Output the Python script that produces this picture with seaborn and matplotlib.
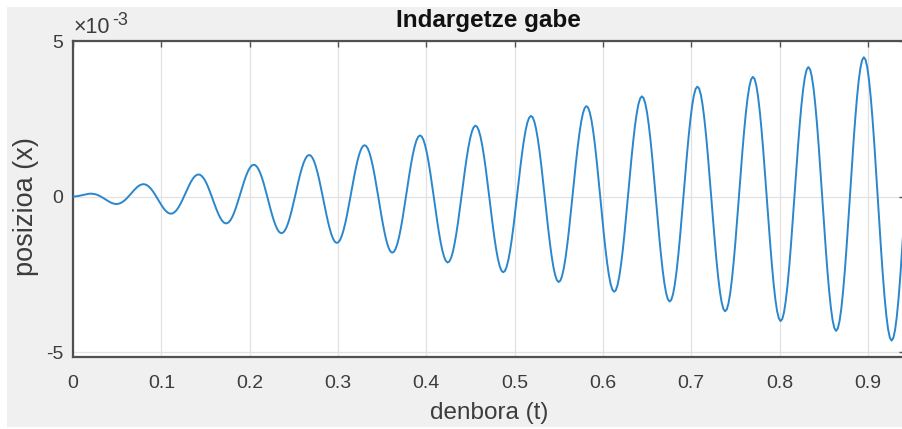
import numpy as np
import pandas as pd
import matplotlib
matplotlib.use("Agg")
import matplotlib.pyplot as plt
import seaborn as sns
from matplotlib.patches import Rectangle

# ---- data ----
# sampling step of the readings along the time axis (s)
dt = 0.003927
# position readings at t = k*dt, in units of 1e-3
pos_e3_grid = [
    0, 0.008, 0.028, 0.054, 0.079, 0.091, 0.083, 0.053, 0, -0.068, -0.139, -0.200, -0.236, -0.236, -0.194, -0.113,
    0, 0.128, 0.250, 0.345, 0.393, 0.381, 0.305, 0.173, 0, -0.188, -0.361, -0.490, -0.550, -0.526, -0.417, -0.233,
    0, 0.248, 0.472, 0.635, 0.707, 0.671, 0.528, 0.293, 0, -0.308, -0.583, -0.780, -0.864, -0.816, -0.639, -0.353,
    0, 0.368, 0.694, 0.925, 1.021, 0.961, 0.750, 0.413, 0, -0.428, -0.805, -1.070, -1.178, -1.107, -0.861, -0.473,
    0, 0.488, 0.916, 1.215, 1.335, 1.252, 0.972, 0.534, 0, -0.549, -1.027, -1.361, -1.492, -1.397, -1.083, -0.594,
    0, 0.609, 1.138, 1.506, 1.649, 1.542, 1.194, 0.654, 0, -0.669, -1.250, -1.651, -1.806, -1.687, -1.305, -0.714,
    0, 0.729, 1.361, 1.796, 1.964, 1.832, 1.416, 0.774, 0, -0.789, -1.472, -1.941, -2.121, -1.977, -1.527, -0.834,
    0, 0.849, 1.583, 2.086, 2.278, 2.122, 1.638, 0.894, 0, -0.909, -1.694, -2.231, -2.435, -2.268, -1.749, -0.954,
    0, 0.969, 1.805, 2.376, 2.592, 2.413, 1.860, 1.014, 0, -1.029, -1.916, -2.522, -2.749, -2.558, -1.972, -1.075,
    0, 1.090, 2.027, 2.667, 2.906, 2.703, 2.083, 1.135, 0, -1.150, -2.138, -2.812, -3.063, -2.848, -2.194, -1.195,
    0, 1.210, 2.249, 2.957, 3.220, 2.993, 2.305, 1.255, 0, -1.270, -2.360, -3.102, -3.377, -3.138, -2.416, -1.315,
    0, 1.330, 2.471, 3.247, 3.534, 3.284, 2.527, 1.375, 0, -1.390, -2.582, -3.392, -3.691, -3.429, -2.638, -1.435,
    0, 1.450, 2.693, 3.537, 3.848, 3.574, 2.749, 1.495, 0, -1.510, -2.805, -3.683, -4.006, -3.719, -2.860, -1.555,
    0, 1.570, 2.916, 3.828, 4.163, 3.864, 2.971, 1.616, 0, -1.631, -3.027, -3.973, -4.320, -4.009, -3.082, -1.676,
    0, 1.691, 3.138, 4.118, 4.477, 4.154, 3.193, 1.736, 0, -1.751, -3.249, -4.263, -4.634, -4.299, -3.304, -1.796,
    0,
]
# position readings at the midpoints t = (k + 0.5)*dt, in units of 1e-3
pos_e3_mid = [
    0.002, 0.016, 0.041, 0.067, 0.087, 0.090, 0.071, 0.029, -0.033, -0.104, -0.171, -0.221, -0.241, -0.220, -0.158, -0.059,
    0.063, 0.191, 0.302, 0.376, 0.395, 0.351, 0.245, 0.090, -0.094, -0.278, -0.433, -0.530, -0.549, -0.482, -0.333, -0.121,
    0.124, 0.365, 0.563, 0.684, 0.703, 0.612, 0.420, 0.151, -0.155, -0.453, -0.694, -0.838, -0.857, -0.743, -0.507, -0.182,
    0.186, 0.540, 0.824, 0.992, 1.011, 0.873, 0.595, 0.213, -0.216, -0.627, -0.955, -1.146, -1.165, -1.004, -0.682, -0.243,
    0.247, 0.715, 1.086, 1.300, 1.319, 1.135, 0.769, 0.274, -0.278, -0.802, -1.216, -1.454, -1.473, -1.265, -0.856, -0.305,
    0.308, 0.889, 1.347, 1.608, 1.627, 1.396, 0.944, 0.335, -0.339, -0.976, -1.478, -1.762, -1.781, -1.526, -1.031, -0.366,
    0.370, 1.064, 1.608, 1.916, 1.935, 1.657, 1.118, 0.396, -0.400, -1.151, -1.739, -2.070, -2.089, -1.788, -1.205, -0.427,
    0.431, 1.238, 1.869, 2.224, 2.244, 1.918, 1.293, 0.458, -0.462, -1.325, -2.000, -2.378, -2.398, -2.049, -1.380, -0.488,
    0.492, 1.413, 2.131, 2.532, 2.552, 2.180, 1.467, 0.519, -0.523, -1.500, -2.261, -2.686, -2.706, -2.310, -1.554, -0.550,
    0.554, 1.587, 2.392, 2.841, 2.860, 2.441, 1.642, 0.580, -0.584, -1.674, -2.522, -2.995, -3.014, -2.571, -1.729, -0.611,
    0.615, 1.762, 2.653, 3.149, 3.168, 2.702, 1.816, 0.642, -0.645, -1.849, -2.784, -3.303, -3.322, -2.833, -1.904, -0.672,
    0.676, 1.936, 2.914, 3.457, 3.476, 2.963, 1.991, 0.703, -0.707, -2.024, -3.045, -3.611, -3.630, -3.094, -2.078, -0.734,
    0.737, 2.111, 3.175, 3.765, 3.784, 3.224, 2.165, 0.764, -0.768, -2.198, -3.306, -3.919, -3.938, -3.355, -2.253, -0.795,
    0.799, 2.285, 3.437, 4.073, 4.092, 3.486, 2.340, 0.825, -0.829, -2.373, -3.567, -4.227, -4.246, -3.616, -2.427, -0.856,
    0.860, 2.460, 3.698, 4.381, 4.400, 3.747, 2.514, 0.887, -0.891, -2.547, -3.828, -4.535, -4.554, -3.877, -2.602, -0.917,
]

x_ticks = [0, 0.1, 0.2, 0.3, 0.4, 0.5, 0.6, 0.7, 0.8, 0.9]
x_tick_labels = ["0", "0.1", "0.2", "0.3", "0.4", "0.5", "0.6", "0.7", "0.8", "0.9"]
y_ticks = [-5, 0, 5]
y_tick_labels = ["-5", "0", "5"]
title_text = "Indargetze gabe"
xlabel_text = "denbora (t)"
ylabel_text = "posizioa (x)"
exp_base = "\u00d710"
exp_power = "-3"

# ---- assemble the readings in time order ----
t_grid = np.arange(len(pos_e3_grid)) * dt
t_mid = (np.arange(len(pos_e3_mid)) + 0.5) * dt
df = pd.DataFrame({"t": np.concatenate([t_grid, t_mid]),
                   "x": np.concatenate([pos_e3_grid, pos_e3_mid])}).sort_values("t")

# ---- style ----
sns.set_style("white")
plt.rcParams["font.family"] = ["Liberation Sans", "DejaVu Sans"]
plt.rcParams["axes.unicode_minus"] = False

W, H = 903, 429
fig = plt.figure(figsize=(W / 100, H / 100), dpi=100, facecolor="white")
fig.patches.append(Rectangle((7 / W, 2 / H), (W - 7) / W, (H - 9) / H,
                             transform=fig.transFigure, facecolor="#f0f0f0",
                             edgecolor="none", zorder=-10))

ax_l, ax_r, ax_t, ax_b = 73, 905, 41, 357
ax = fig.add_axes([ax_l / W, (H - ax_b) / H, (ax_r - ax_l) / W, (ax_b - ax_t) / H])
ax.set_facecolor("white")

sns.lineplot(data=df, x="t", y="x", ax=ax, color="#2a87cd", linewidth=1.4,
             sort=False, estimator=None, zorder=3)

ax.set_xlim(0, 0.942)
ax.set_ylim(-5.16, 5.0)
ax.set_xticks(x_ticks)
ax.set_xticklabels(x_tick_labels)
ax.set_yticks(y_ticks)
ax.set_yticklabels(y_tick_labels)
ax.set_xlabel("")
ax.set_ylabel("")

ax.grid(True, color="#e2e2e2", linewidth=0.9, zorder=0)
ax.set_axisbelow(True)
for s in ax.spines.values():
    s.set_visible(True)
    s.set_color("#505050")
    s.set_linewidth(1.6)

ax.tick_params(axis="both", direction="in", length=4.5, width=1.0, color="#505050",
               top=True, right=True, labelsize=14, labelcolor="#3c3c3c")
ax.tick_params(axis="x", pad=13)
ax.tick_params(axis="y", pad=7)

# exponent marker
fig.text(74 / W, (H - 33) / H, exp_base, fontsize=15.5, color="#3c3c3c",
         ha="left", va="baseline")
fig.text(112 / W, (H - 25) / H, exp_power, fontsize=13, color="#3c3c3c",
         ha="left", va="baseline")

fig.text(488 / W, (H - 26.7) / H, title_text, fontsize=17.5, fontweight="bold",
         color="#111111", ha="center", va="baseline")
fig.text(489 / W, (H - 419) / H, xlabel_text, fontsize=17.5, color="#3c3c3c",
         ha="center", va="baseline")
fig.text(26 / W, (H - 207) / H, ylabel_text, fontsize=19.5, color="#3c3c3c",
         ha="center", va="center", rotation=90)

fig.savefig("out.png", dpi=100, facecolor="white")
